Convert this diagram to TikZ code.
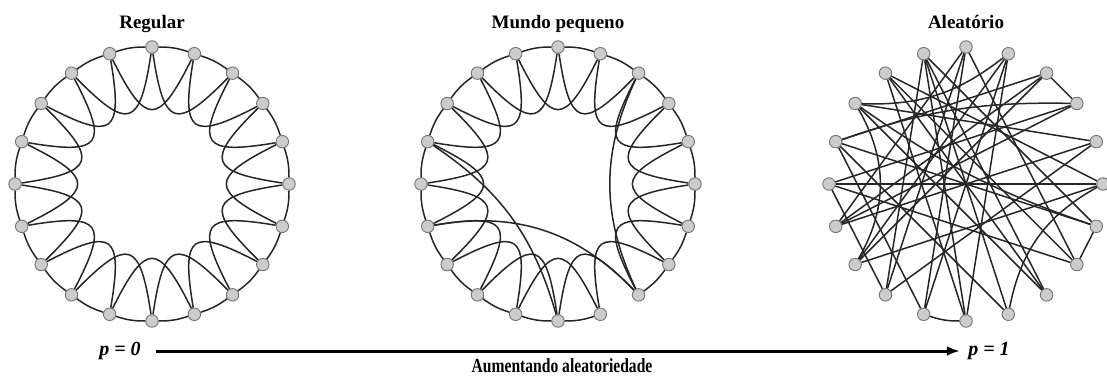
\documentclass[tikz,border=0pt]{standalone}
\usepackage{fontspec}
\setmainfont{Liberation Serif}
\usepackage{tikz}
\usetikzlibrary{arrows.meta}

\begin{document}
\begin{tikzpicture}[x=1pt, y=1pt,
  vertex/.style={circle, draw=black!55, fill=black!20, line width=0.9pt, minimum size=12.5pt, inner sep=0pt},
  edge/.style={draw=black!85, line width=1.5pt},
  title/.style={font=\fontsize{19}{22}\selectfont\bfseries, anchor=base},
  plabel/.style={font=\fontsize{20}{24}\selectfont\bfseries\itshape}]
  \useasboundingbox (0,0) rectangle (1107,376);

  % titles
  \node[title] (tReg) at (152,348) {Regular};
  \node[title] (tSmall) at (558,348) {Mundo pequeno};
  \node[title] (tRand) at (966,348) {Aleatório};

  % regular ring
  \begin{scope}[shift={(152,192)}]
    \foreach \i in {0,...,19}
      \node[vertex] (r\i) at ({90-18*\i}:137) {};
    \foreach \i in {0,...,19} {
      \pgfmathtruncatemacro\j{mod(\i+1,20)}
      \pgfmathtruncatemacro\k{mod(\i+2,20)}
      \draw[edge] (r\i) to[bend left=9] (r\j);
      \draw[edge] (r\i) .. controls ({72-18*\i+6}:58) and ({72-18*\i-6}:58) .. (r\k);
    }
  \end{scope}

  % small world ring
  \begin{scope}[shift={(558,192)}]
    \foreach \i in {0,...,19}
      \node[vertex] (s\i) at ({90-18*\i}:137) {};
    \foreach \i in {0,...,19} {
      \pgfmathtruncatemacro\j{mod(\i+1,20)}
      \pgfmathtruncatemacro\k{mod(\i+2,20)}
      \ifnum\i=8 \else \draw[edge] (s\i) to[bend left=9] (s\j); \fi
      \draw[edge] (s\i) .. controls ({72-18*\i+6}:58) and ({72-18*\i-6}:58) .. (s\k);
    }
    % rewired links
    \draw[edge] (s16) to[bend left=20] (s10);
    \draw[edge] (s14) to[bend left=28] (s8);
    \draw[edge] (s2) to[bend right=25] (s8);
  \end{scope}

  % random graph
  \begin{scope}[shift={(966,192)}]
    \foreach \i in {0,...,19}
      \node[vertex] (a\i) at ({90-18*\i}:137) {};
    \foreach \a/\b in {0/11, 0/12, 0/7, 0/14, 1/10, 1/13, 1/11, 2/3, 2/13, 2/14,
                       2/16, 3/14, 3/15, 4/14, 4/12, 4/17, 5/15, 5/13, 5/18, 6/7,
                       6/16, 6/19, 7/18, 7/15, 8/18, 8/17, 8/19, 9/19, 9/16, 10/19,
                       10/18, 11/16, 12/19, 12/15}
      \draw[edge] (a\a) -- (a\b);
    \draw[edge] (a17) to[bend right=20] (a1);
    \draw[edge] (a16) to[bend left=10] (a3);
    \draw[edge] (a5) to[bend right=25] (a9);
    \draw[edge] (a6) to[bend left=8] (a17);
    \draw[edge] (a10) to[bend left=9] (a11);
    \draw[edge] (a13) to[bend right=30] (a17);
  \end{scope}

  % bottom axis
  \node[plabel] (p0) at (120,25) {p = 0};
  \node[plabel] (p1) at (989,25) {p = 1};
  \draw[line width=3pt, -{Latex[length=13pt, width=10pt]}, shorten <=12pt, shorten >=5pt] (p0) -- (p1);
  \node[anchor=base, font=\fontsize{20}{24}\selectfont\bfseries] (rnd) at (562,4) {\scalebox{0.78}[1]{Aumentando aleatoriedade}};
\end{tikzpicture}
\end{document}
